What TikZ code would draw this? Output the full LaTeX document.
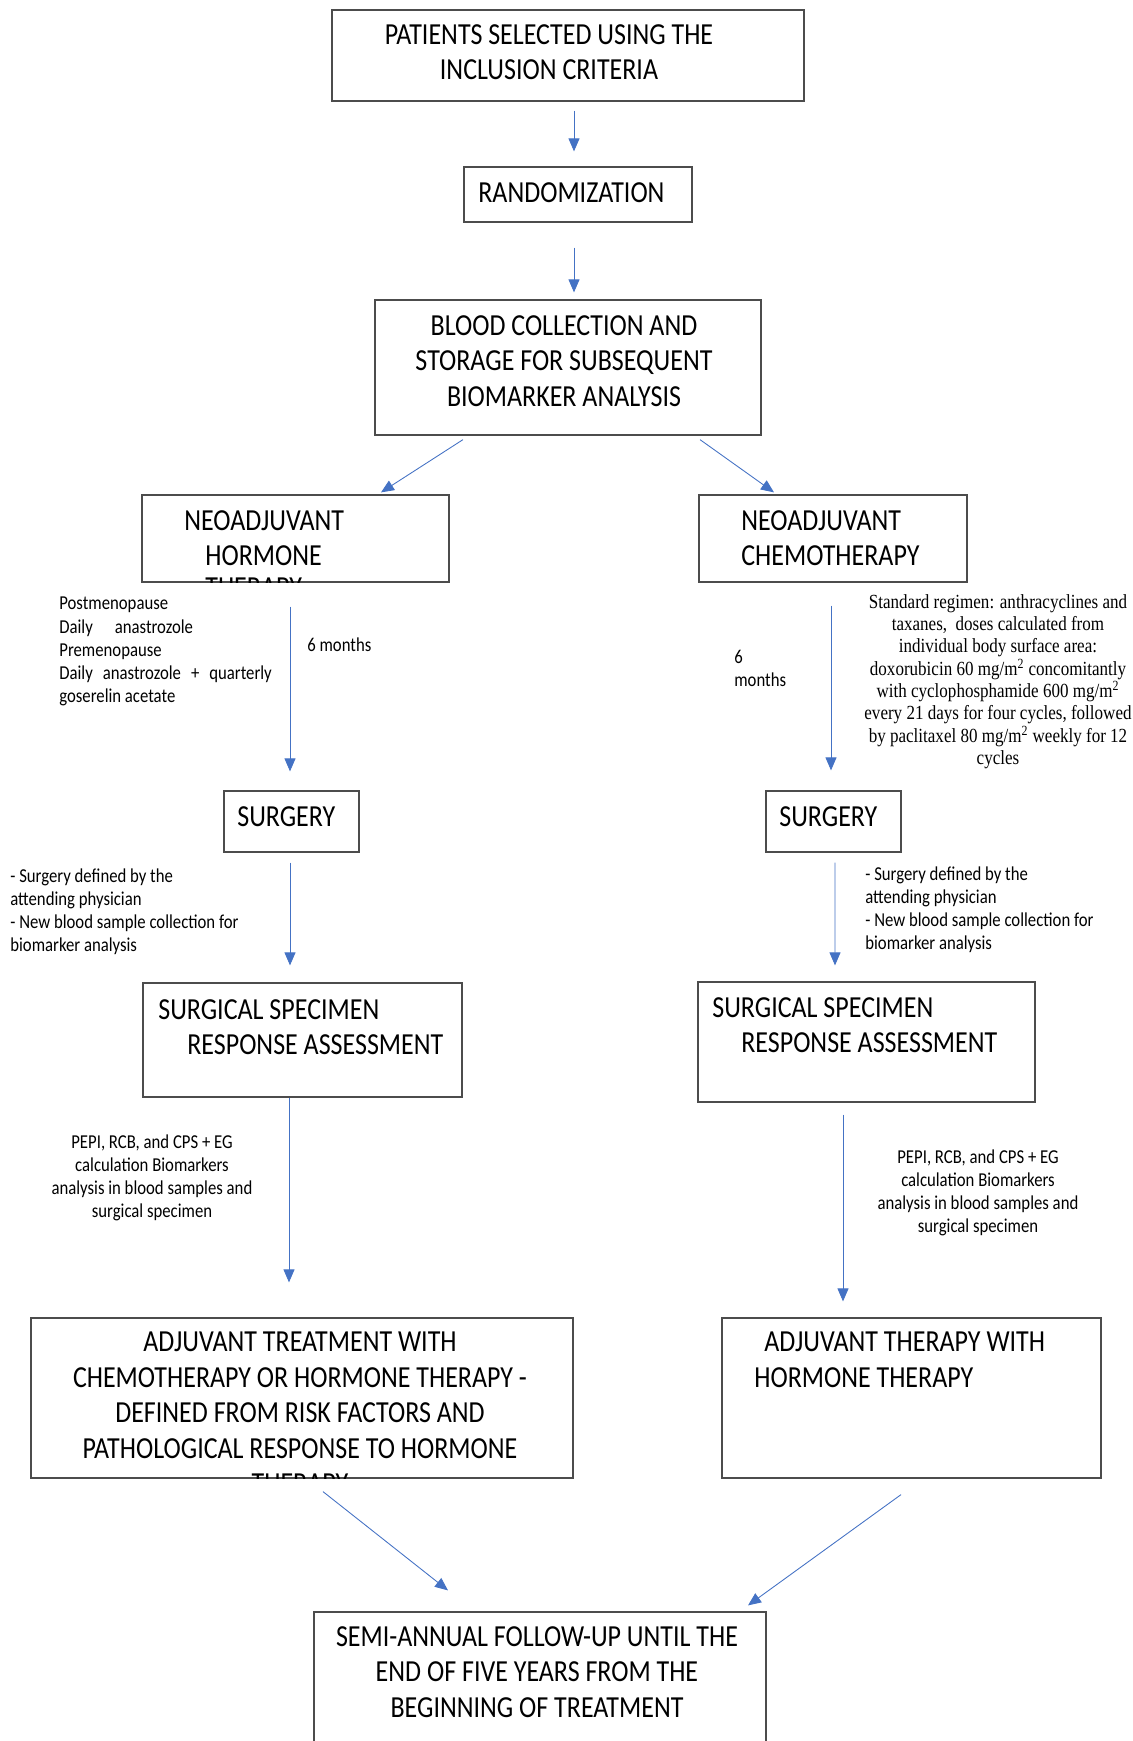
\documentclass[tikz,border=0pt]{standalone}
\usepackage{fontspec}
\setmainfont[FakeStretch=0.85]{Carlito}
\newfontfamily\regimenfont[FakeStretch=0.85]{Liberation Serif}
\usetikzlibrary{arrows.meta}
\newlength\px
\setlength\px{0.2mm}
\definecolor{arrowblue}{RGB}{68,114,196}

\begin{document}
\begin{tikzpicture}[
    x=0.2mm, y=-0.2mm,
    box/.style={rectangle, draw=black!70, line width=0.7pt, inner sep=0pt},
    boxtext/.style={inner sep=0pt, font=\fontsize{17.4}{20.2}\selectfont},
    note/.style={inner sep=0pt, align=left, font=\fontsize{11.2}{13.2}\selectfont},
    regimen/.style={inner sep=0pt, align=center, font=\regimenfont\fontsize{11.4}{12.7}\selectfont},
    arr/.style={draw=arrowblue, line width=0.5pt, -{Triangle[length=2.6mm, width=2.2mm]}}
]
    \useasboundingbox (0,0) rectangle (1133,1741);
    \clip (0,0) rectangle (1133,1741);

    \node[box, minimum width=472\px, minimum height=91\px] (patients) at (568,55.5) {};
    \node[box, minimum width=228\px, minimum height=55\px] (random) at (578,194.5) {};
    \node[box, minimum width=386\px, minimum height=135\px] (blood) at (568,367.5) {};
    \node[box, minimum width=307\px, minimum height=87\px] (neoh) at (295.5,538.5) {};
    \node[box, minimum width=268\px, minimum height=87\px] (neoc) at (833,538.5) {};
    \node[box, minimum width=135\px, minimum height=61\px] (surgL) at (291.5,821.5) {};
    \node[box, minimum width=135\px, minimum height=61\px] (surgR) at (833.5,821.5) {};
    \node[box, minimum width=319\px, minimum height=114\px] (specL) at (302.5,1040) {};
    \node[box, minimum width=337\px, minimum height=120\px] (specR) at (866.5,1042) {};
    \node[box, minimum width=542\px, minimum height=160\px] (adjL) at (302,1398) {};
    \node[box, minimum width=379\px, minimum height=160\px] (adjR) at (911.5,1398) {};
    \node[box, minimum width=452\px, minimum height=200\px] (semi) at (540,1712) {};

    \node[boxtext, align=center, anchor=north] (patientsT) at (549,24) {PATIENTS SELECTED USING THE\\INCLUSION CRITERIA};
    \node[boxtext, anchor=north west] (randomT) at (478,182) {RANDOMIZATION};
    \node[boxtext, align=center, anchor=north] (bloodT) at (564,315) {BLOOD COLLECTION AND\\STORAGE FOR SUBSEQUENT\\BIOMARKER ANALYSIS};
    \begin{scope}
        \clip (neoh.south west) rectangle (neoh.north east);
        \node[boxtext, align=left, anchor=north west] (neohT) at (184,510) {NEOADJUVANT\\\hspace*{21\px}HORMONE\\[-2pt]\hspace*{21\px}THERAPY};
    \end{scope}
    \node[boxtext, align=left, anchor=north west] (neocT) at (741,510) {NEOADJUVANT\\CHEMOTHERAPY};
    \node[boxtext, anchor=north west] (surgLT) at (237,806) {SURGERY};
    \node[boxtext, anchor=north west] (surgRT) at (779,806) {SURGERY};
    \node[boxtext, align=left, anchor=north west] (specLT) at (158,999) {SURGICAL SPECIMEN\\\hspace*{29\px}RESPONSE ASSESSMENT};
    \node[boxtext, align=left, anchor=north west] (specRT) at (712,997) {SURGICAL SPECIMEN\\\hspace*{29\px}RESPONSE ASSESSMENT};
    \begin{scope}
        \clip (adjL.south west) rectangle (adjL.north east);
        \node[boxtext, align=center, anchor=north] (adjLT) at (300,1332) {ADJUVANT TREATMENT WITH\\CHEMOTHERAPY OR HORMONE THERAPY -\\DEFINED FROM RISK FACTORS AND\\PATHOLOGICAL RESPONSE TO HORMONE\\THERAPY};
    \end{scope}
    \node[boxtext, align=left, anchor=north west] (adjRT) at (754,1332) {\hspace*{10\px}ADJUVANT THERAPY WITH\\HORMONE THERAPY};
    \node[boxtext, align=center, anchor=north] (semiT) at (537,1626) {SEMI-ANNUAL FOLLOW-UP UNTIL THE\\END OF FIVE YEARS FROM THE\\BEGINNING OF TREATMENT};

    \node[note, anchor=north west] (hormNote) at (59,597) {Postmenopause\\Daily\hspace{22\px}anastrozole\\Premenopause\\Daily\hspace{10\px}anastrozole\hspace{10\px}+\hspace{10\px}quarterly\\goserelin acetate};
    \node[note, anchor=west] (monthsL) at (307,645) {6 months};
    \node[note, anchor=north west] (monthsR) at (734,650) {6\\months};
    \node[regimen, anchor=north] (chemoNote) at (998,594) {Standard regimen: anthracyclines and\\taxanes,~ doses calculated from\\individual body surface area:\\doxorubicin 60 mg/m\textsuperscript{2} concomitantly\\with cyclophosphamide 600 mg/m\textsuperscript{2}\\every 21 days for four cycles, followed\\by paclitaxel 80 mg/m\textsuperscript{2} weekly for 12\\cycles};
    \node[note, anchor=north west] (surgNoteL) at (10,868) {- Surgery defined by the\\attending physician\\- New blood sample collection for\\biomarker analysis};
    \node[note, anchor=north west] (surgNoteR) at (865,866) {- Surgery defined by the\\attending physician\\- New blood sample collection for\\biomarker analysis};
    \node[note, align=center, anchor=north] (pepiL) at (152,1134) {PEPI, RCB, and CPS + EG\\calculation Biomarkers\\analysis in blood samples and\\surgical specimen};
    \node[note, align=center, anchor=north] (pepiR) at (978,1149) {PEPI, RCB, and CPS + EG\\calculation Biomarkers\\analysis in blood samples and\\surgical specimen};

    \draw[arr] ([xshift=6\px, yshift=-9\px]patients.south) -- ([xshift=-4\px, yshift=15\px]random.north);
    \draw[arr] ([xshift=-4\px, yshift=-25\px]random.south) -- ([xshift=6\px, yshift=7\px]blood.north);
    \draw[arr] ([xshift=-105\px, yshift=-4\px]blood.south) -- ([xshift=85.5\px, yshift=2\px]neoh.north);
    \draw[arr] ([xshift=132\px, yshift=-4\px]blood.south) -- ([xshift=-59\px, yshift=2\px]neoc.north);
    \draw[arr] ([xshift=-5.5\px, yshift=-24\px]neoh.south) -- ([xshift=-1.5\px, yshift=19\px]surgL.north);
    \draw[arr] ([xshift=-2\px, yshift=-23\px]neoc.south) -- ([xshift=-2.5\px, yshift=20\px]surgR.north);
    \draw[arr] ([xshift=-1.5\px, yshift=-10\px]surgL.south) -- ([xshift=-12.5\px, yshift=17\px]specL.north);
    \draw[arr] ([xshift=1.5\px, yshift=-10\px]surgR.south) -- ([xshift=-31.5\px, yshift=16\px]specR.north);
    \draw[arr] ([xshift=-13.5\px]specL.south) -- ([xshift=-13\px, yshift=35\px]adjL.north);
    \draw[arr] ([xshift=-23.5\px, yshift=-12\px]specR.south) -- ([xshift=-68.5\px, yshift=16\px]adjR.north);
    \draw[arr] ([xshift=21\px, yshift=-13\px]adjL.south) -- ([xshift=-92\px, yshift=21\px]semi.north);
    \draw[arr] ([xshift=-10.5\px, yshift=-16\px]adjR.south) -- ([xshift=208\px, yshift=6\px]semi.north);
\end{tikzpicture}
\end{document}
